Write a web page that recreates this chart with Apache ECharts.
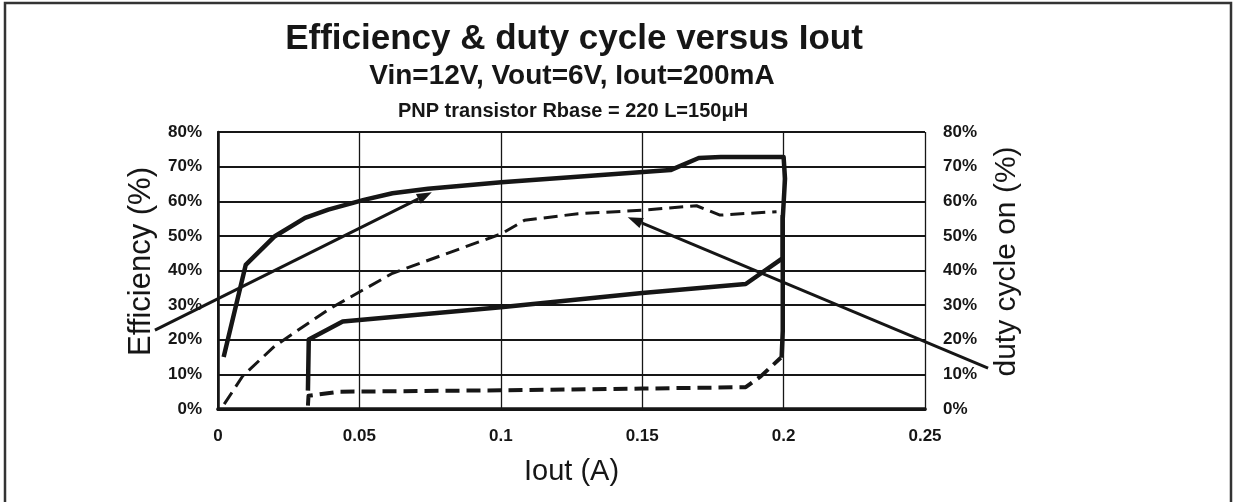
<!DOCTYPE html>
<html>
<head>
<meta charset="utf-8">
<script src="https://cdn.jsdelivr.net/npm/echarts@6/dist/echarts.min.js"></script>
<style>
html,body{margin:0;padding:0;background:#fff;}
#chart{width:1236px;height:502px;}
</style>
</head>
<body>
<div id="chart"></div>
<script>
// ---- data (Iout in A, percent) ----
const titleMain = 'Efficiency & duty cycle versus Iout';
const titleSub = 'Vin=12V, Vout=6V, Iout=200mA';
const titleSub2 = 'PNP transistor Rbase = 220 L=150\u03bcH';
const xTicks = [0, 0.05, 0.1, 0.15, 0.2, 0.25];
const yTicks = [0, 10, 20, 30, 40, 50, 60, 70, 80];

const effUpper = [[0.002,15],[0.0098,41.6],[0.0201,49.9],[0.0308,55.2],[0.039,57.6],[0.0516,60.4],[0.0617,62.3],[0.0743,63.6],[0.1002,65.5],[0.16,69.0],[0.170,72.5],[0.1778,72.8],[0.2,72.8],[0.2005,66.5],[0.1997,55],[0.1997,22.5],[0.1993,14.8]];
const effLower = [[0.0318,5.3],[0.0321,20.1],[0.0441,25.3],[0.1,29.4],[0.15,33.5],[0.1866,36.1],[0.1997,43.6],[0.1997,56]];
const dutyUpper = [[0.0022,1.4],[0.0088,9.6],[0.0201,18.2],[0.039,28.7],[0.0617,39.2],[0.1002,50.6],[0.1084,54.5],[0.1273,56.4],[0.15,57.4],[0.1692,58.7],[0.1775,56.0],[0.1975,57.0]];
const dutyLower = [[0.0318,1.0],[0.032,3.8],[0.0428,5.0],[0.1,5.4],[0.15,5.9],[0.1866,6.3],[0.192,9.5],[0.199,14.8]];

// annotation arrows [tail, head] in data coordinates
const arrowEff = [[-0.0223,22.8],[0.0756,62.6]];
const arrowDuty = [[0.2723,11.8],[0.1449,55.4]];

const FONT = 'Liberation Sans, Arial, sans-serif';
const INK = '#161616';
const chart = echarts.init(document.getElementById('chart'), null, {renderer:'canvas'});

function lineSeries(name, data, dashed, width){
  return {
    name, type:'line', data, showSymbol:false, symbol:'none', silent:true,
    lineStyle:{color:INK, width, type: dashed ? [14,7] : 'solid', cap:'butt', join:'round'},
    z: 5
  };
}

const option = {
  animation:false,
  backgroundColor:'#fff',
  title:[
    {text:titleMain, left:569, top:17, textAlign:'center', textStyle:{fontFamily:FONT, fontWeight:'bold', fontSize:35, color:INK}},
    {text:titleSub, left:567, top:57, textAlign:'center', textStyle:{fontFamily:FONT, fontWeight:'bold', fontSize:28, color:INK}},
    {text:titleSub2, left:568, top:96, textAlign:'center', textStyle:{fontFamily:FONT, fontWeight:'bold', fontSize:20, color:INK}}
  ],
  grid:{left:218, right:311, top:132, bottom:93},
  xAxis:[{
    type:'value', min:xTicks[0], max:xTicks[xTicks.length-1], interval:0.05,
    name:'Iout (A)', nameLocation:'middle', nameGap:48,
    nameTextStyle:{fontFamily:FONT, fontSize:29, color:INK},
    axisLine:{show:true, lineStyle:{color:INK, width:3}},
    axisTick:{show:false},
    axisLabel:{margin:19, fontFamily:FONT, fontWeight:'bold', fontSize:17, color:INK},
    splitLine:{show:true, lineStyle:{color:INK, width:1.3}}
  },{
    type:'value', position:'top', min:0, max:0.25,
    axisLine:{show:true, lineStyle:{color:INK, width:3.5}},
    axisTick:{show:false}, axisLabel:{show:false}, splitLine:{show:false}
  }],
  yAxis:[{
    type:'value', min:0, max:80, interval:10, position:'left',
    name:'Efficiency (%)', nameLocation:'middle', nameGap:60, nameRotate:90,
    nameTextStyle:{fontFamily:FONT, fontSize:31, color:INK, padding:[0,0,0,18]},
    axisLine:{show:true, lineStyle:{color:INK, width:2}},
    axisTick:{show:false},
    axisLabel:{margin:16, fontFamily:FONT, fontWeight:'bold', fontSize:17, color:INK, formatter:'{value}%'},
    splitLine:{show:true, lineStyle:{color:INK, width:1.8}}
  },{
    type:'value', min:0, max:80, interval:10, position:'right',
    name:'duty cycle on (%)', nameLocation:'middle', nameGap:67, nameRotate:90,
    nameTextStyle:{fontFamily:FONT, fontSize:30, color:INK, padding:[0,0,0,18]},
    axisLine:{show:true, lineStyle:{color:INK, width:2.5}},
    axisTick:{show:false},
    axisLabel:{margin:18, fontFamily:FONT, fontWeight:'bold', fontSize:17, color:INK, formatter:'{value}%'},
    splitLine:{show:false}
  }],
  series:[
    lineSeries('Efficiency A', effUpper, false, 4.5),
    lineSeries('Efficiency B', effLower, false, 4.5),
    lineSeries('Duty A', dutyUpper, true, 3),
    lineSeries('Duty B', dutyLower, true, 4)
  ]
};
chart.setOption(option);

function arrowGraphic(pair){
  const p0 = chart.convertToPixel({xAxisIndex:0, yAxisIndex:0}, pair[0]);
  const p1 = chart.convertToPixel({xAxisIndex:0, yAxisIndex:0}, pair[1]);
  const ang = Math.atan2(p1[1]-p0[1], p1[0]-p0[0]);
  const L = 15, W = 5.5;
  const bx = p1[0] - L*Math.cos(ang), by = p1[1] - L*Math.sin(ang);
  const nx = -Math.sin(ang), ny = Math.cos(ang);
  return [
    {type:'line', shape:{x1:p0[0], y1:p0[1], x2:bx, y2:by}, style:{stroke:INK, lineWidth:3}, z:10},
    {type:'polygon', shape:{points:[[p1[0],p1[1]],[bx+nx*W,by+ny*W],[bx-nx*W,by-ny*W]]}, style:{fill:INK}, z:10}
  ];
}
chart.setOption({
  graphic:[
    {type:'rect', shape:{x:5, y:3, width:1226, height:510}, style:{fill:'none', stroke:'#333', lineWidth:2.5}, z:0, silent:true}
  ].concat(arrowGraphic(arrowEff), arrowGraphic(arrowDuty))
});
</script>
</body>
</html>
